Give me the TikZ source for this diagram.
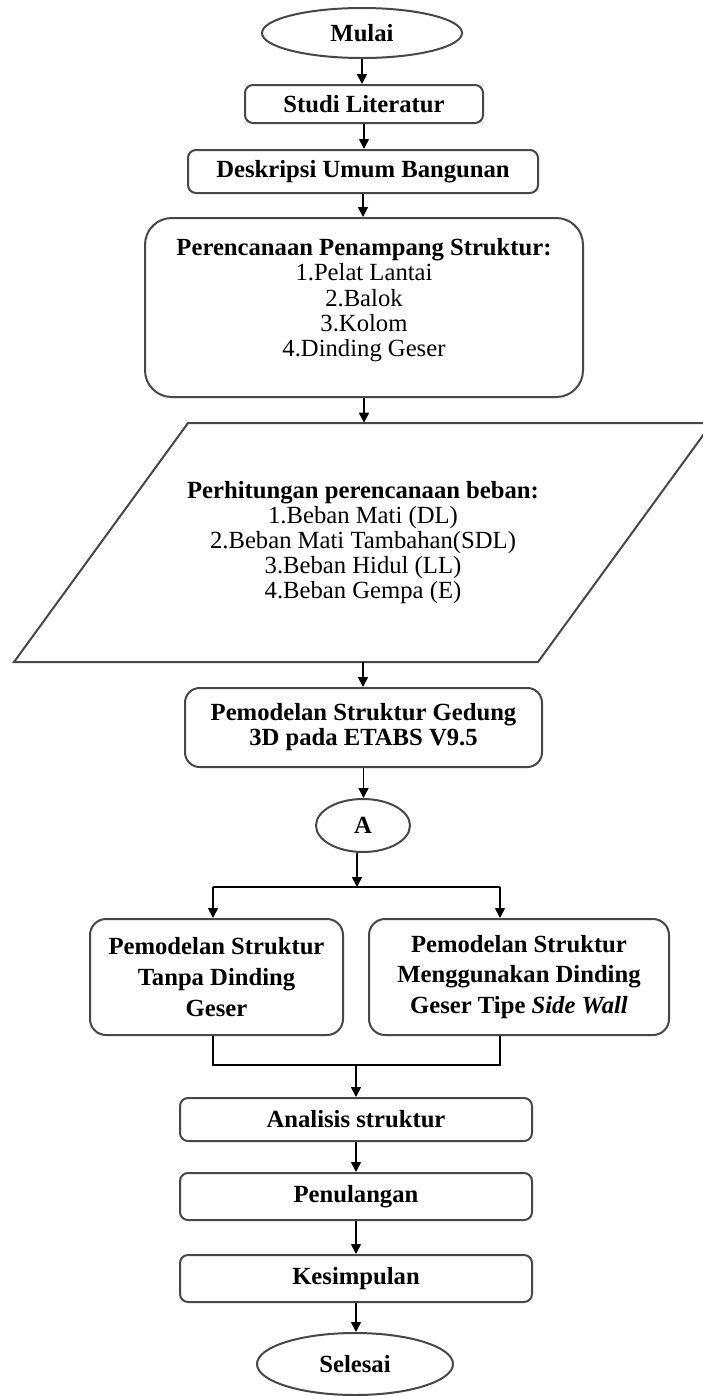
\documentclass[tikz,border=0pt]{standalone}
\usepackage{fontspec}
\setmainfont{Liberation Serif}
\usetikzlibrary{arrows.meta,shapes.geometric}

\begin{document}
\begin{tikzpicture}[x=0.75pt,y=0.75pt,yscale=-1,xscale=1,
    garis/.style={draw=black!72,line width=1.5pt},
    proses/.style={garis,rectangle,rounded corners=6pt,inner sep=0pt,align=center},
    terminal/.style={garis,ellipse,inner sep=0pt,align=center},
    panah/.style={black,line width=1.2pt,-{Triangle[length=7.5pt,width=7.5pt]}},
    hubung/.style={black,line width=1.2pt},
    every node/.style={font=\fontsize{18.5}{18.75}\selectfont\bfseries}]
        %uncomment if require: \path (0,1396); %diagram is 703 x 1396
        \useasboundingbox (0,0) rectangle (703,1396);

        %Flowchart: Terminator
        \node [terminal,minimum width=150pt,minimum height=37.5pt] (mulai) at (362,33) {Mulai};
        %Flowchart: Process
        \node [proses,minimum width=178.5pt,minimum height=28.5pt] (studi) at (364,104) {Studi Literatur};
        %Flowchart: Process
        \node [proses,minimum width=262.5pt,minimum height=32.25pt] (deskripsi) at (363,171.5) {Deskripsi Umum Bangunan};
        %Flowchart: Process
        \node [proses,rounded corners=20pt,minimum width=328.5pt,minimum height=134.25pt,font=\fontsize{18.5}{19}\selectfont] (penampang) at (364,307.5)
            {\textbf{Perencanaan Penampang Struktur:}\\1.Pelat Lantai\\2.Balok\\3.Kolom\\4.Dinding Geser\\[-4pt]};

        %Shape: Parallelogram
        \draw [garis] (188,423) -- (712,423) -- (538,662) -- (14,662) -- cycle ;
        % Text Node
        \node [inner sep=0pt,minimum height=179.25pt,align=center,font=\fontsize{18.5}{18.75}\selectfont] (beban) at (363,542.5)
            {\textbf{Perhitungan perencanaan beban:}\\1.Beban Mati (DL)\\2.Beban Mati Tambahan(SDL)\\3.Beban Hidul (LL)\\4.Beban Gempa (E)};

        %Flowchart: Process
        \node [proses,rounded corners=11pt,minimum width=267.75pt,minimum height=59.25pt] (gedung) at (363.5,727.5) {Pemodelan Struktur Gedung\\3D pada ETABS V9.5};
        %Flowchart: Connector
        \node [terminal,minimum width=70.5pt,minimum height=39.75pt] (A) at (363,825.5) {A};

        %Flowchart: Process
        \node [proses,rounded corners=12pt,minimum width=189.75pt,minimum height=87pt,font=\fontsize{18.5}{23}\selectfont\bfseries] (tanpa) at (216.5,977) {Pemodelan Struktur\\Tanpa Dinding\\Geser};
        %Flowchart: Process
        \node [proses,rounded corners=12pt,minimum width=225pt,minimum height=87pt,font=\fontsize{18.5}{23}\selectfont\bfseries] (sidewall) at (519,977) {Pemodelan Struktur\\Menggunakan Dinding\\Geser Tipe \textit{Side Wall}};

        %Flowchart: Process
        \node [proses,minimum width=264pt,minimum height=32.25pt] (analisis) at (356,1119.5) {Analisis struktur};
        %Flowchart: Process
        \node [proses,minimum width=264pt,minimum height=35.25pt] (penulangan) at (356,1196.5) {Penulangan};
        %Flowchart: Process
        \node [proses,minimum width=264pt,minimum height=35.25pt] (kesimpulan) at (356,1278.5) {Kesimpulan};
        %Flowchart: Terminator
        \node [terminal,minimum width=147pt,minimum height=46.5pt] (selesai) at (355,1364) {Selesai};

        %Branch points
        \coordinate (cabangL) at (213,887);
        \coordinate (cabangR) at (500,887);
        \coordinate (gabungL) at (213,1065);
        \coordinate (gabungR) at (500,1065);

        %Straight Lines
        \draw [panah] (mulai.south) -- (mulai.south |- studi.north) ;
        \draw [panah] (studi.south) -- (studi.south |- deskripsi.north) ;
        \draw [panah] (deskripsi.south) -- (deskripsi.south |- penampang.north) ;
        \draw [panah] (penampang.south) -- (penampang.south |- beban.north) ;
        \draw [panah] (beban.south) -- (beban.south |- gedung.north) ;
        \draw [panah] (gedung.south) -- (gedung.south |- A.north) ;
        \draw [hubung] (cabangL) -- (cabangR) ;
        \draw [panah] ([xshift=-4.5pt]A.south) -- ([xshift=-4.5pt]A.south |- cabangL) ;
        \draw [panah] (cabangL) -- (cabangL |- tanpa.north) ;
        \draw [panah] (cabangR) -- (cabangR |- sidewall.north) ;
        \draw [hubung] (cabangL |- tanpa.south) -- (gabungL) -- (gabungR) -- (cabangR |- sidewall.south) ;
        \draw [panah] (analisis.north |- gabungL) -- (analisis.north) ;
        \draw [panah] (analisis.south) -- (penulangan.north) ;
        \draw [panah] (penulangan.south) -- (kesimpulan.north) ;
        \draw [panah] (kesimpulan.south) -- (kesimpulan.south |- selesai.north) ;

    \end{tikzpicture}
\end{document}
